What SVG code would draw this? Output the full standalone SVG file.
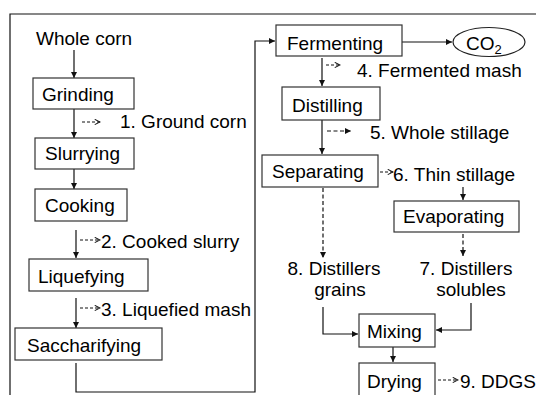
<svg xmlns="http://www.w3.org/2000/svg" width="536" height="395" viewBox="0 0 536 395">
<defs>
<marker id="ah" viewBox="0 0 8 8" refX="8" refY="4" markerWidth="6" markerHeight="6" markerUnits="userSpaceOnUse" orient="auto"><path d="M0,0 L8,4 L0,8 Z" fill="#111"/></marker>
<marker id="chev" viewBox="0 0 8 8" refX="7" refY="4" markerWidth="7" markerHeight="7" markerUnits="userSpaceOnUse" orient="auto"><path d="M1,1 L7,4 L1,7" fill="none" stroke="#111" stroke-width="1.2"/></marker>
</defs>
<style>
text{font-family:"Liberation Sans",Arial,sans-serif;font-size:19px;fill:#000}
.box{fill:#fff;stroke:#333;stroke-width:1.2}
.c{fill:none;stroke:#111;stroke-width:1.2}
.a{marker-end:url(#ah)}
.d{stroke-dasharray:4,2.5}
.s{fill:none;stroke:#111;stroke-width:1;stroke-dasharray:3,2;marker-end:url(#chev)}
</style>
<rect width="536" height="395" fill="#fff"/>
<path class="c" d="M536,14 H10 V395"/>
<g id="connectors">
<path class="c a" d="M74,50 V78"/>
<path class="c a" d="M74,109 V138"/>
<path class="c a" d="M74,169 V189"/>
<path class="c a" d="M76,230 V258"/>
<path class="c a" d="M76,298 V328"/>
<path class="c a" d="M76,363 V392 H255 V41 H275"/>
<path class="c a" d="M402,42 H452"/>
<path class="c a" d="M322,58 V86"/>
<path class="c a" d="M322,120 V154"/>
<path class="c a d" d="M327,131 H351"/>
<path class="c a" d="M463,187 V200"/>
<path class="c a d" d="M463,234 V256"/>
<path class="c a d" d="M323,188 V258"/>
<path class="c a" d="M323,307 V334 H358"/>
<path class="c a" d="M471,303 V330 H436"/>
<path class="c a" d="M393,347 V362"/>
<path class="s" d="M82,122 H100"/>
<path class="s" d="M80,240 H100"/>
<path class="s" d="M80,308 H100"/>
<path class="s" d="M326,65 H340"/>
<path class="s" d="M380,172 H393"/>
<path class="s" d="M438,380 H458"/>
</g>
<g id="whole-corn"><text x="36" y="45">Whole corn</text></g>
<g id="grinding"><rect class="box" x="33" y="78" width="101" height="31"/><text x="42" y="101">Grinding</text></g>
<g id="slurrying"><rect class="box" x="35" y="138" width="99" height="31"/><text x="45" y="160">Slurrying</text></g>
<g id="cooking"><rect class="box" x="35" y="189" width="92" height="32"/><text x="45" y="212">Cooking</text></g>
<g id="liquefying"><rect class="box" x="29" y="259" width="119" height="32"/><text x="38" y="283">Liquefying</text></g>
<g id="saccharifying"><rect class="box" x="15" y="328" width="147" height="32"/><text x="27" y="352">Saccharifying</text></g>
<g id="fermenting"><rect class="box" x="276" y="25" width="126" height="31"/><text x="287" y="50">Fermenting</text></g>
<g id="co2"><ellipse cx="489" cy="42" rx="36" ry="14.5" fill="#fff" stroke="#222" stroke-width="1.2"/><text x="466" y="50">CO<tspan font-size="13" dy="4">2</tspan></text></g>
<g id="distilling"><rect class="box" x="282" y="87" width="98" height="33"/><text x="292" y="112">Distilling</text></g>
<g id="separating"><rect class="box" x="262" y="155" width="116" height="32"/><text x="272" y="178">Separating</text></g>
<g id="evaporating"><rect class="box" x="394" y="201" width="125" height="31"/><text x="403" y="223">Evaporating</text></g>
<g id="mixing"><rect class="box" x="359" y="314" width="76" height="33"/><text x="367" y="338">Mixing</text></g>
<g id="drying"><rect class="box" x="359" y="363" width="76" height="40"/><text x="367" y="388">Drying</text></g>
<g id="labels">
<text x="120" y="128">1. Ground corn</text>
<text x="101" y="248">2. Cooked slurry</text>
<text x="101" y="316">3. Liquefied mash</text>
<text x="357" y="77">4. Fermented mash</text>
<text x="370" y="139">5. Whole stillage</text>
<text x="393" y="181">6. Thin stillage</text>
<text x="466" y="275" text-anchor="middle">7. Distillers</text>
<text x="471" y="296" text-anchor="middle">solubles</text>
<text x="334" y="275" text-anchor="middle">8. Distillers</text>
<text x="340" y="296" text-anchor="middle">grains</text>
<text x="460" y="388">9. DDGS</text>
</g>
</svg>
